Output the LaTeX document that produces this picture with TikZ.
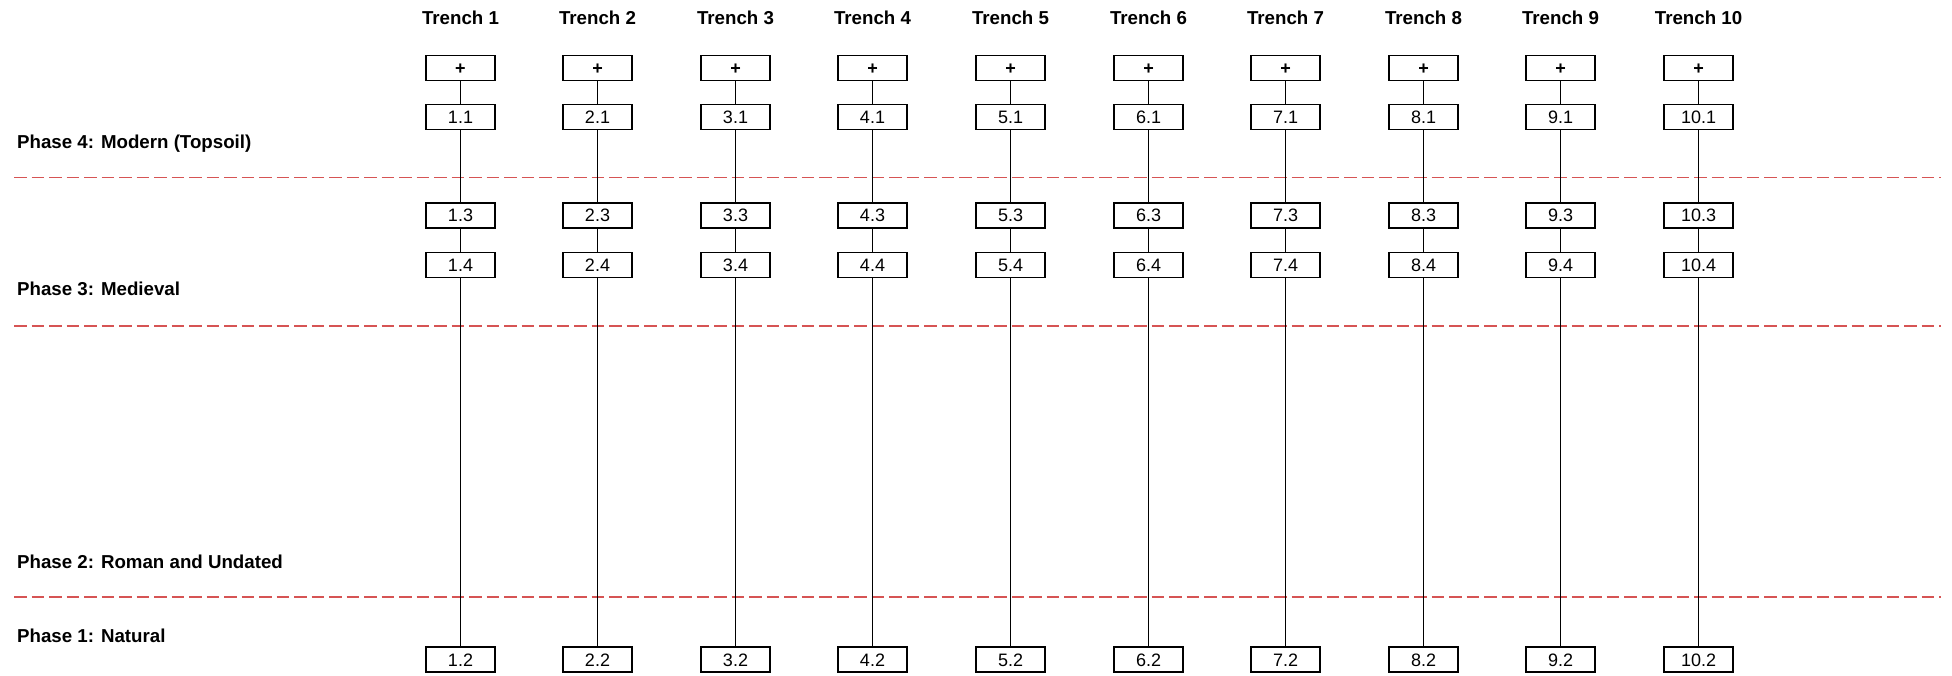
\documentclass[tikz,border=0pt]{standalone}
\usepackage{fontspec}
\setmainfont{Liberation Sans}
\definecolor{phaseRed}{RGB}{214,84,84}
\begin{document}
\begin{tikzpicture}[x=1pt,y=-1pt,
  ctx/.style={draw=black,line width=1.7pt,fill=white,minimum width=69pt,minimum height=25pt,
    inner sep=0pt,text height=13pt,text depth=0pt,font=\fontsize{18}{20}\selectfont},
  topbox/.style={ctx,font=\fontsize{18}{20}\selectfont\bfseries},
  hdr/.style={anchor=base,font=\fontsize{18.7}{22}\selectfont\bfseries,inner sep=0pt},
  phase/.style={anchor=base west,font=\fontsize{18.7}{22}\selectfont\bfseries,inner sep=0pt},
  link/.style={draw=black,line width=1.4pt},
  divider/.style={draw=phaseRed,line width=1.8pt,dash pattern=on 12.5pt off 5pt}]
\useasboundingbox (0,0) rectangle (1952,676);
% phase dividers
\coordinate (d1a) at (14,177.5); \coordinate (d1b) at (1941,177.5);
\coordinate (d2a) at (14,326); \coordinate (d2b) at (1941,326);
\coordinate (d3a) at (14,597); \coordinate (d3b) at (1941,597);
\draw[divider] (d1a) -- (d1b);
\draw[divider] (d2a) -- (d2b);
\draw[divider] (d3a) -- (d3b);
% phase labels
\node[phase] (p4) at (17,149) {Phase 4: Modern (Topsoil)};
\node[phase] (p3) at (17,296) {Phase 3: Medieval};
\node[phase] (p2) at (17,568) {Phase 2: Roman and Undated};
\node[phase] (p1) at (17,642) {Phase 1: Natural};
% trenches
\foreach \i in {1,...,10} {
  \pgfmathsetmacro{\xx}{round(459.5+137.6*(\i-1))+0.5}
  \node[hdr] (h\i) at (\xx,25) {Trench \i};
  \node[topbox] (t\i) at (\xx,68) {+};
  \node[ctx] (c\i a) at (\xx,117) {\i.1};
  \node[ctx] (c\i c) at (\xx,215.5) {\i.3};
  \node[ctx] (c\i d) at (\xx,265) {\i.4};
  \node[ctx] (c\i b) at (\xx,659.5) {\i.2};
  \draw[link] (t\i) -- (c\i a);
  \draw[link] (c\i a) -- (c\i c);
  \draw[link] (c\i c) -- (c\i d);
  \draw[link] (c\i d) -- (c\i b);
}
\end{tikzpicture}
\end{document}
